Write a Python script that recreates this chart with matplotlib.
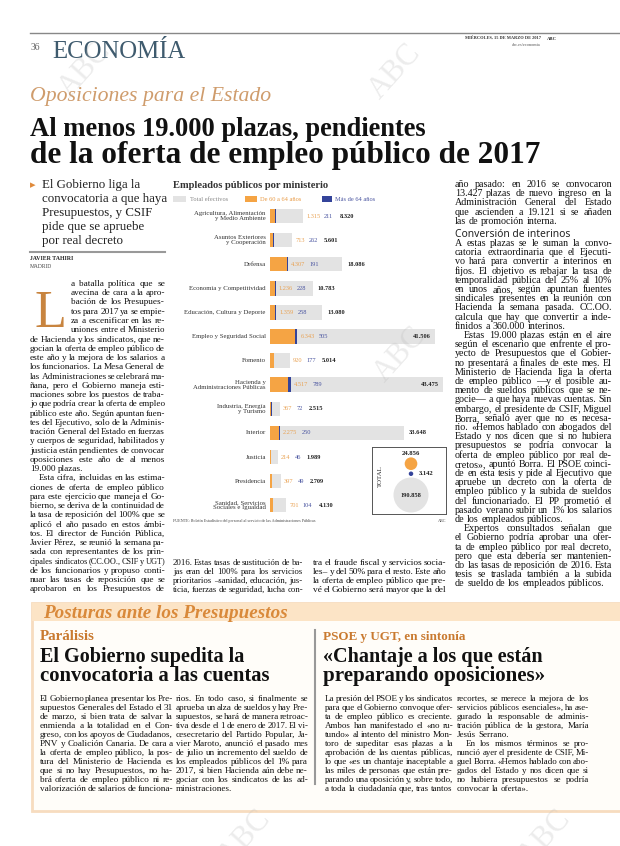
import matplotlib
matplotlib.use('Agg')
import matplotlib.pyplot as plt
from matplotlib.patches import Rectangle
from matplotlib.lines import Line2D
import math

# ---------------- data ----------------
ministerios = ["Agricultura, Alimentación\ny Medio Ambiente", "Asuntos Exteriores\ny Cooperación",
               "Defensa", "Economía y Competitividad", "Educación, Cultura y Deporte",
               "Empleo y Seguridad Social", "Fomento", "Hacienda y\nAdministraciones Públicas",
               "Industria, Energía\ny Turismo", "Interior", "Justicia", "Presidencia",
               "Sanidad, Servicios\nSociales e Igualdad"]
total_efectivos = [8320, 5601, 18086, 10783, 13080, 41506, 5014, 43475, 2515, 33648, 1989, 2709, 4130]
de_60_a_64 = [1315, 713, 4307, 1236, 1359, 6343, 920, 4517, 367, 2275, 214, 397, 701]
mas_de_64 = [211, 262, 191, 228, 258, 505, 177, 789, 72, 250, 46, 49, 104]
total_labels = ["De 60 a 64 años", "Más de 64 años", "Total efectivos"]
total_values = [24856, 3142, 190858]

W, H = 620, 846
fig = plt.figure(figsize=(6.2, 8.46), dpi=100)
fig.patch.set_facecolor('white')
R = fig.canvas.get_renderer()
SERIF = 'Liberation Serif'
GREY, ORANGE, BLUE = '#e3e3e3', '#f5a444', '#34449a'
BODY = 7.2


def fx(x):
    return x / W


def fy(y):
    return 1 - y / H


def T(x, y, s, size, **kw):
    kw.setdefault('family', SERIF)
    va = kw.pop('va', 'baseline')
    return fig.text(fx(x), fy(y), s, fontsize=size, va=va, **kw)


def wpx(t):
    return t.get_window_extent(R).width


def fit(x0, x1, y, s, **kw):
    t = T(x0, y, s, 10, **kw)
    w = wpx(t)
    t.set_fontsize(10 * (x1 - x0) / w)
    return t


def parse(ln):
    indent, just = 0, True
    if ln.startswith('\t'):
        indent = 9
        ln = ln[1:]
    if ln.endswith('¶'):
        just = False
        ln = ln[:-1]
    return ln, indent, just


def block(x0, x1, y0, dy, lines, size=BODY, color='#111', **kw):
    kw.setdefault('family', SERIF)
    items = []
    fits = []
    for i, raw in enumerate(lines):
        ln, indent, just = parse(raw)
        words = ln.split()
        ts = [T(0, y0 + i * dy, w, size, color=color, **kw) for w in words]
        ws = [wpx(t) for t in ts]
        sp = size / 72 * 100 * 0.14
        nat = sum(ws) + sp * (len(ws) - 1)
        avail = x1 - x0 - indent
        f = avail / nat
        fits.append(f)
        items.append((ts, ws, indent, just, f))
    srt = sorted(fits)
    base = min(1.0, srt[int(0.2 * (len(srt) - 1))])
    for ts, ws, indent, just, f in items:
        sc = min(base, f)
        ws = [w * sc for w in ws]
        for t in ts:
            t.set_fontsize(size * sc)
        avail = x1 - x0 - indent
        sp = size * sc / 72 * 100 * 0.25
        if just and len(ws) > 1:
            gap = (avail - sum(ws)) / (len(ws) - 1)
        else:
            gap = sp
        x = x0 + indent
        for t, w in zip(ts, ws):
            t.set_x(fx(x))
            x += w + gap


def hline(x0, x1, y, color='#999', lw=1.0):
    fig.add_artist(Line2D([fx(x0), fx(x1)], [fy(y), fy(y)], color=color, lw=lw))


def vline(x, y0, y1, color='#999', lw=1.0):
    fig.add_artist(Line2D([fx(x), fx(x)], [fy(y0), fy(y1)], color=color, lw=lw))


def rect(x0, y0, x1, y1, **kw):
    fig.add_artist(Rectangle((fx(x0), fy(y1)), (x1 - x0) / W, (y1 - y0) / H, transform=fig.transFigure, **kw))


# ---------------- header ----------------
hline(30, 620, 33, color='#888', lw=1.0)
T(31, 50, "36", 7, color='#666')
fit(52, 186, 58, "ECONOMÍA", color='#3f5b6e')
T(541, 40, "MIÉRCOLES, 15 DE MARZO DE 2017", 3.2, ha='right', weight='bold', color='#333')
T(541, 46, "abc.es/economia", 3.2, ha='right', color='#555')
T(547, 40, "ABC", 3.4, weight='bold', color='#333')
fit(30, 272, 101, "Oposiciones para el Estado", style='italic', color='#cf9c6c')
fit(30, 427, 136, "Al menos 19.000 plazas, pendientes", weight='bold', color='#111')
fit(30, 541, 163, "de la oferta de empleo público de 2017", weight='bold', color='#111')

# ---------------- left column ----------------
T(30, 188, "▸", 8, family='DejaVu Sans', color='#e08a3a')
sub = ["El Gobierno liga la", "convocatoria a que haya", "Presupuestos, y CSIF", "pide que se apruebe", "por real decreto"]
t0 = fit(42, 167, 202, sub[1], color='#222')
ssz = t0.get_fontsize()
for i, s in enumerate(sub):
    if i != 1:
        T(42, 188 + 14 * i, s, ssz, color='#222')
hline(30, 165, 252, color='#999', lw=1.5)
T(30, 260, "JAVIER TAHIRI", 4.2, weight='bold', color='#222')
T(30, 268, "MADRID", 4.0, color='#444')
fit(34, 66, 327, "L", color='#c8843f')

left_lines = [
    "a batalla política que se", "avecina de cara a la apro-", "bación de los Presupues-",
    "tos para 2017 ya se empie-", "za a escenificar en las re-", "uniones entre el Ministerio",
    "de Hacienda y los sindicatos, que ne-", "gocian la oferta de empleo público de",
    "este año y la mejora de los salarios a", "los funcionarios. La Mesa General de",
    "las Administraciones se celebrará ma-", "ñana, pero el Gobierno maneja esti-",
    "maciones sobre los puestos de traba-", "jo que podría crear la oferta de empleo",
    "público este año. Según apuntan fuen-", "tes del Ejecutivo, solo de la Adminis-",
    "tración General del Estado en fuerzas", "y cuerpos de seguridad, habilitados y",
    "justicia están pendientes de convocar", "oposiciones este año de al menos",
    "19.000 plazas.¶", "\tEsta cifra, incluidas en las estima-",
    "ciones de oferta de empleo público", "para este ejercicio que maneja el Go-",
    "bierno, se deriva de la continuidad de", "la tasa de reposición del 100% que se",
    "aplicó el año pasado en estos ámbi-", "tos. El director de Función Pública,",
    "Javier Pérez, se reunió la semana pa-", "sada con representantes de los prin-",
    "cipales sindicatos (CC.OO., CSIF y UGT)", "de los funcionarios y propuso conti-",
    "nuar las tasas de reposición que se", "aprobaron en los Presupuestos de",
]
block(71, 165, 286, 9.25, left_lines[:6])
block(30, 165, 286 + 6 * 9.25, 9.25, left_lines[6:])

# ---------------- chart ----------------
fit(173, 330, 188, "Empleados públicos por ministerio", weight='bold', color='#333')
rect(173, 196, 186, 202, facecolor=GREY, edgecolor='none')
T(190, 201, "Total efectivos", 4.6, color='#888')
rect(245, 196, 257, 202, facecolor=ORANGE, edgecolor='none')
T(260, 201, "De 60 a 64 años", 4.6, color='#e89a45')
rect(322, 196, 332, 202, facecolor=BLUE, edgecolor='none')
T(335, 201, "Más de 64 años", 4.6, color='#4a55a0')

x_left, x_right = 270, 443
row0, drow = 216, 24.1
ax = fig.add_axes([fx(x_left), fy(row0 + 12.5 * drow), (x_right - x_left) / W, 13 * drow / H])
n = len(ministerios)
ys = list(range(n))
ax.barh(ys, total_efectivos, height=0.6, color=GREY)
ax.barh(ys, de_60_a_64, height=0.6, color=ORANGE)
ax.barh(ys, mas_de_64, left=de_60_a_64, height=0.6, color=BLUE)
ax.set_xlim(0, max(total_efectivos))
ax.set_ylim(n - 0.5, -0.5)
ax.axis('off')

ppu = (x_right - x_left) / max(total_efectivos)
VS = 4.6


def mw(s, size, **kw):
    t = fig.text(0, 0, s, fontsize=size, family=SERIF, **kw)
    w = wpx(t)
    t.remove()
    return w


def fmt(v):
    return f"{v:,}".replace(',', '.')


for i in ys:
    ax.annotate(ministerios[i], xy=(0, i), xycoords='data', xytext=(-3, 0), textcoords='offset points',
                ha='right', va='center', fontsize=4.9, family=SERIF, color='#333', multialignment='right',
                linespacing=1.0)
    o, b, t = de_60_a_64[i], mas_de_64[i], total_efectivos[i]
    so, sb, st = fmt(o), fmt(b), fmt(t)
    wo, wb, wt = mw(so, VS), mw(sb, VS), mw(st, VS, weight='bold')
    oe = (o + b) * ppu
    tp = t * ppu
    if oe + 3 + wo + 4 + wb + 3 <= tp:
        xo = oe + 3
        inside = True
    else:
        xo = tp + 3
        inside = False
    xb = xo + wo + 4
    if inside:
        xt = tp + 5
        if xt + wt > (x_right - x_left) + 4:
            xt = tp - 4 - wt
    else:
        xt = xb + wb + 6
    for s, xx, c, wgt in [(so, xo, '#e9a253', 'normal'), (sb, xb, '#4a55a0', 'normal'), (st, xt, '#222', 'bold')]:
        ax.annotate(s, xy=(0, i), xycoords='data', xytext=(xx * 0.72, 0), textcoords='offset points',
                    ha='left', va='center', fontsize=VS, family=SERIF, color=c, weight=wgt)

# total inset
bx0, by0, bx1, by1 = 372, 447, 446, 514
ax2 = fig.add_axes([fx(bx0), fy(by1), (bx1 - bx0) / W, (by1 - by0) / H])
ax2.set_xlim(0, bx1 - bx0)
ax2.set_ylim(by1 - by0, 0)
ax2.set_xticks([])
ax2.set_yticks([])
for sp in ax2.spines.values():
    sp.set_linestyle((0, (1, 1)))
    sp.set_color('#555')
    sp.set_linewidth(0.7)
rmax = 17.5
radii = [rmax * math.sqrt(v / max(total_values)) for v in total_values]
cx = 39
cy_g = (by1 - by0) - 1.5 - radii[2]
cy_b = cy_g - radii[2] - 1.5 - radii[1]
cy_o = cy_b - radii[1] - 1.5 - radii[0]
cols = [ORANGE, BLUE, GREY]
for r, cy, c in zip(radii, [cy_o, cy_b, cy_g], cols):
    ax2.scatter([cx], [cy], s=(2 * r * 0.72) ** 2, color=c, edgecolors='none', zorder=2)
ax2.text(cx, cy_o - radii[0] - 1.5, fmt(total_values[0]), ha='center', va='bottom', fontsize=4.8,
         family=SERIF, weight='bold', color='#222')
ax2.text(cx + radii[1] + 6, cy_b, fmt(total_values[1]), ha='left', va='center', fontsize=4.8,
         family=SERIF, weight='bold', color='#222')
ax2.text(cx, cy_g, fmt(total_values[2]), ha='center', va='center', fontsize=4.6,
         family=SERIF, weight='bold', color='#222', zorder=3)
ax2.text(8, 29, "TOTAL", rotation=90, ha='center', va='center', fontsize=5, family=SERIF, color='#333')

T(173, 522, "FUENTE: Boletín Estadístico del personal al servicio de las Administraciones Públicas", 3.0, color='#444')
T(446, 522, "ABC", 3.0, ha='right', color='#444')

mid1 = ["2016. Estas tasas de sustitución de ba-", "jas eran del 100% para los servicios",
        "prioritarios –sanidad, educación, jus-", "ticia, fuerzas de seguridad, lucha con-"]
mid2 = ["tra el fraude fiscal y servicios socia-", "les– y del 50% para el resto. Este año",
        "la oferta de empleo público que pre-", "vé el Gobierno será mayor que la del"]
block(173, 303, 565, 9.1, mid1)
block(313, 446, 565, 9.1, mid2)

# ---------------- right column ----------------
r1 = ["año pasado: en 2016 se convocaron", "13.427 plazas de nuevo ingreso en la",
      "Administración General del Estado", "que ascienden a 19.121 si se añaden",
      "las de promoción interna.¶"]
fit(455, 570, 237, "Conversión de interinos", weight='bold', color='#222', family='Noto Sans')
r2 = ["A estas plazas se le suman la convo-", "catoria extraordinaria que el Ejecuti-",
      "vo hará para convertir a interinos en", "fijos. El objetivo es rebajar la tasa de",
      "temporalidad pública del 25% al 10%", "en unos años, según apuntan fuentes",
      "sindicales presentes en la reunión con", "Hacienda la semana pasada. CC.OO.",
      "calcula que hay que convertir a inde-", "finidos a 360.000 interinos.¶",
      "\tEstas 19.000 plazas están en el aire", "según el escenario que enfrente el pro-",
      "yecto de Presupuestos que el Gobier-", "no presentará a finales de este mes. El",
      "Ministerio de Hacienda liga la oferta", "de empleo público —y el posible au-",
      "mento de sueldos públicos que se ne-", "gocie— a que haya nuevas cuentas. Sin",
      "embargo, el presidente de CSIF, Miguel", "Borra, señaló ayer que no es necesa-",
      "rio. «Hemos hablado con abogados del", "Estado y nos dicen que si no hubiera",
      "presupuestos se podría convocar la", "oferta de empleo público por real de-",
      "cretos», apuntó Borra. El PSOE coinci-", "de en esta tesis y pide al Ejecutivo que",
      "apruebe un decreto con la oferta de", "empleo público y la subida de sueldos",
      "del funcionariado. El PP prometió el", "pasado verano subir un 1% los salarios",
      "de los empleados públicos.¶", "\tExpertos consultados señalan que",
      "el Gobierno podría aprobar una ofer-", "ta de empleo público por real decreto,",
      "pero que esta debería ser mantenien-", "do las tasas de reposición de 2016. Esta",
      "tesis se traslada también a la subida", "de sueldo de los empleados públicos.¶"]
block(455, 612, 187, 9.2, r1)
block(455, 612, 246, 9.2, r2)

# ---------------- bottom section ----------------
rect(32, 603, 622, 811, facecolor='#fffdf9', edgecolor='#f7dcbf', lw=2)
rect(32, 603, 622, 621, facecolor='#fce4c6', edgecolor='none')
fit(43, 287, 618, "Posturas ante los Presupuestos", weight='bold', style='italic', color='#d9893a')
fit(40, 95, 640, "Parálisis", weight='bold', color='#c97a30')
fit(40, 245, 662, "El Gobierno supedita la", weight='bold', color='#111')
fit(40, 271, 681, "convocatoria a las cuentas", weight='bold', color='#111')
b1 = ["El Gobierno planea presentar los Pre-", "supuestos Generales del Estado el 31",
      "de marzo, si bien trata de salvar la", "enmienda a la totalidad en el Con-",
      "greso, con los apoyos de Ciudadanos,", "PNV y Coalición Canaria. De cara a",
      "la oferta de empleo público, la pos-", "tura del Ministerio de Hacienda es",
      "que si no hay Presupuestos, no ha-", "brá oferta de empleo público ni re-",
      "valorización de salarios de funciona-"]
b2 = ["rios. En todo caso, si finalmente se", "aprueba un alza de sueldos y hay Pre-",
      "supuestos, se hará de manera retroac-", "tiva desde el 1 de enero de 2017. El vi-",
      "cesecretario del Partido Popular, Ja-", "vier Maroto, anunció el pasado mes",
      "de julio un incremento del sueldo de", "los empleados públicos del 1% para",
      "2017, si bien Hacienda aún debe ne-", "gociar con los sindicatos de las ad-",
      "ministraciones.¶"]
block(40, 173, 701, 9.0, b1)
block(176, 308, 701, 9.0, b2)

vline(315, 630, 784, color='#999', lw=1.5)
fit(323, 465, 640, "PSOE y UGT, en sintonía", weight='bold', color='#c97a30')
fit(323, 543, 662, "«Chantaje a los que están", weight='bold', color='#111')
fit(323, 547, 681, "preparando oposiciones»", weight='bold', color='#111')
c1 = ["La presión del PSOE y los sindicatos", "para que el Gobierno convoque ofer-",
      "ta de empleo público es creciente.", "Ambos han manifestado el «no ru-",
      "tundo» al intento del ministro Mon-", "toro de supeditar esas plazas a la",
      "aprobación de las cuentas públicas,", "lo que «es un chantaje inaceptable a",
      "las miles de personas que están pre-", "parando una oposición y, sobre todo,",
      "a toda la ciudadanía que, tras tantos"]
c2 = ["recortes, se merece la mejora de los", "servicios públicos esenciales», ha ase-",
      "gurado la responsable de adminis-", "tración pública de la gestora, María",
      "Jesús Serrano.¶", "\tEn los mismos términos se pro-",
      "nunció ayer el presidente de CSIF, Mi-", "guel Borra. «Hemos hablado con abo-",
      "gados del Estado y nos dicen que si", "no hubiera presupuestos se podría",
      "convocar la oferta».¶"]
block(325, 453, 701, 9.0, c1)
block(457, 589, 701, 9.0, c2)

# watermarks
for (x, y) in [(85, 70), (395, 72), (400, 355), (245, 838), (545, 838)]:
    T(x, y, "ABC", 22, rotation=48, ha='center', va='center', color='#bbbbbb', alpha=0.28)

fig.savefig('out.png', dpi=100, facecolor='white')
